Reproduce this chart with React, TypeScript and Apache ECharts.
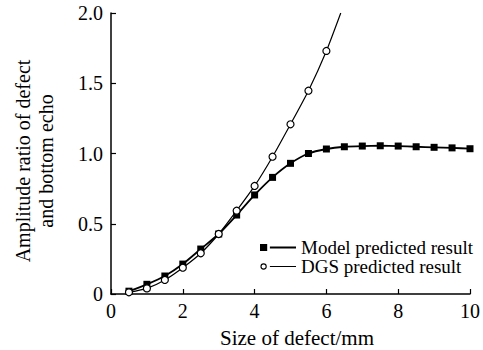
import React, { useEffect, useRef } from "react";
import * as echarts from "echarts";

const modelX = [0.5, 1, 1.5, 2, 2.5, 3, 3.5, 4, 4.5, 5, 5.5, 6, 6.5, 7, 7.5, 8, 8.5, 9, 9.5, 10];
const modelY = [0.02, 0.069, 0.128, 0.213, 0.32, 0.427, 0.562, 0.705, 0.83, 0.93, 1.0, 1.032, 1.048, 1.053, 1.055, 1.053, 1.048, 1.044, 1.04, 1.034];
const dgsX = [0.5, 1, 1.5, 2, 2.5, 3, 3.5, 4, 4.5, 5, 5.5, 6];
const dgsY = [0.012, 0.04, 0.1, 0.187, 0.29, 0.427, 0.593, 0.769, 0.977, 1.208, 1.447, 1.73];
const dgsEnd = [6.4, 2.0];
const xTicks = [0, 2, 4, 6, 8, 10];
const yTicks = [0, 0.5, 1.0, 1.5, 2.0];
const yTitle = "Amplitude ratio of defect\nand bottom echo";
const xTitle = "Size of defect/mm";

const FONT = "Liberation Serif, Times New Roman, Times, DejaVu Serif, serif";

export default function App() {
  const ref = useRef<HTMLDivElement>(null);
  useEffect(() => {
    const chart = echarts.init(ref.current!, null, { renderer: "svg" });
    const modelData = modelX.map((x, i) => [x, modelY[i]]);
    const dgsData: any[] = dgsX.map((x, i) => [x, dgsY[i]]);
    dgsData.push({ value: dgsEnd, symbol: "none" });
    chart.setOption({
      animation: false,
      backgroundColor: "#fff",
      textStyle: { fontFamily: FONT, color: "#000" },
      grid: { left: 111, right: 13, top: 13, bottom: 56, containLabel: false, outerBoundsMode: "none" },
      graphic: [
        {
          type: "text",
          x: 34,
          y: 161,
          rotation: Math.PI / 2,
          style: {
            text: yTitle,
            fontFamily: FONT,
            fontSize: 20,
            lineHeight: 23,
            fill: "#000",
            align: "center",
            verticalAlign: "middle",
          },
        },
      ],
      legend: {
        orient: "vertical",
        right: 5,
        top: 233,
        align: "left",
        itemWidth: 36,
        itemHeight: 8,
        itemGap: 0,
        itemTextGap: 6,
        selectedMode: false,
        textStyle: { fontFamily: FONT, fontSize: 19, color: "#000" },
        data: [
          {
            name: "Model predicted result",
            icon: "path://M0,0h8v8h-8z M11,3h29v2h-29z",
            itemStyle: { color: "#000", borderWidth: 0 },
          },
          {
            name: "DGS predicted result",
            icon: "path://M0.5,4a3.5,3.5 0 1,0 7,0a3.5,3.5 0 1,0 -7,0z M1.7,4a2.3,2.3 0 1,1 4.6,0a2.3,2.3 0 1,1 -4.6,0z M11,3.4h29v1.2h-29z M0,0 M40,8",
            itemStyle: { color: "#000", borderWidth: 0 },
          },
        ],
      },
      xAxis: {
        type: "value",
        min: xTicks[0],
        max: xTicks[xTicks.length - 1],
        interval: 2,
        name: xTitle,
        nameLocation: "middle",
        nameGap: 33,
        nameTextStyle: { fontFamily: FONT, fontSize: 21, color: "#000", padding: [0, 0, 0, 13] },
        axisLine: { lineStyle: { color: "#000", width: 1.5 } },
        axisTick: { inside: true, length: 5, lineStyle: { color: "#000", width: 1.2 } },
        axisLabel: { fontFamily: FONT, fontSize: 20, color: "#000", margin: 7 },
        splitLine: { show: false },
      },
      yAxis: {
        type: "value",
        min: yTicks[0],
        max: yTicks[yTicks.length - 1],
        interval: 0.5,
        axisLine: { show: true, lineStyle: { color: "#000", width: 1.5 } },
        axisTick: { show: true, inside: true, length: 5, lineStyle: { color: "#000", width: 1.2 } },
        axisLabel: {
          fontFamily: FONT,
          fontSize: 20,
          color: "#000",
          margin: 8,
          formatter: (v: number) => (v === 0 ? "0" : v.toFixed(1)),
        },
        splitLine: { show: false },
      },
      series: [
        {
          name: "Model predicted result",
          type: "line",
          data: modelData,
          smooth: 0.2,
          symbol: "rect",
          symbolSize: 7,
          itemStyle: { color: "#000" },
          lineStyle: { color: "#000", width: 1.8 },
          z: 2,
        },
        {
          name: "DGS predicted result",
          type: "line",
          data: dgsData,
          smooth: 0.2,
          symbol: "circle",
          symbolSize: 7,
          itemStyle: { color: "#fff", borderColor: "#000", borderWidth: 1.2 },
          lineStyle: { color: "#000", width: 1.2 },
          z: 3,
        },
      ],
    });
    return () => chart.dispose();
  }, []);
  return (
    <div
      ref={ref}
      style={{ position: "fixed", left: 0, top: 0, width: 483, height: 350, background: "#fff" }}
    />
  );
}
